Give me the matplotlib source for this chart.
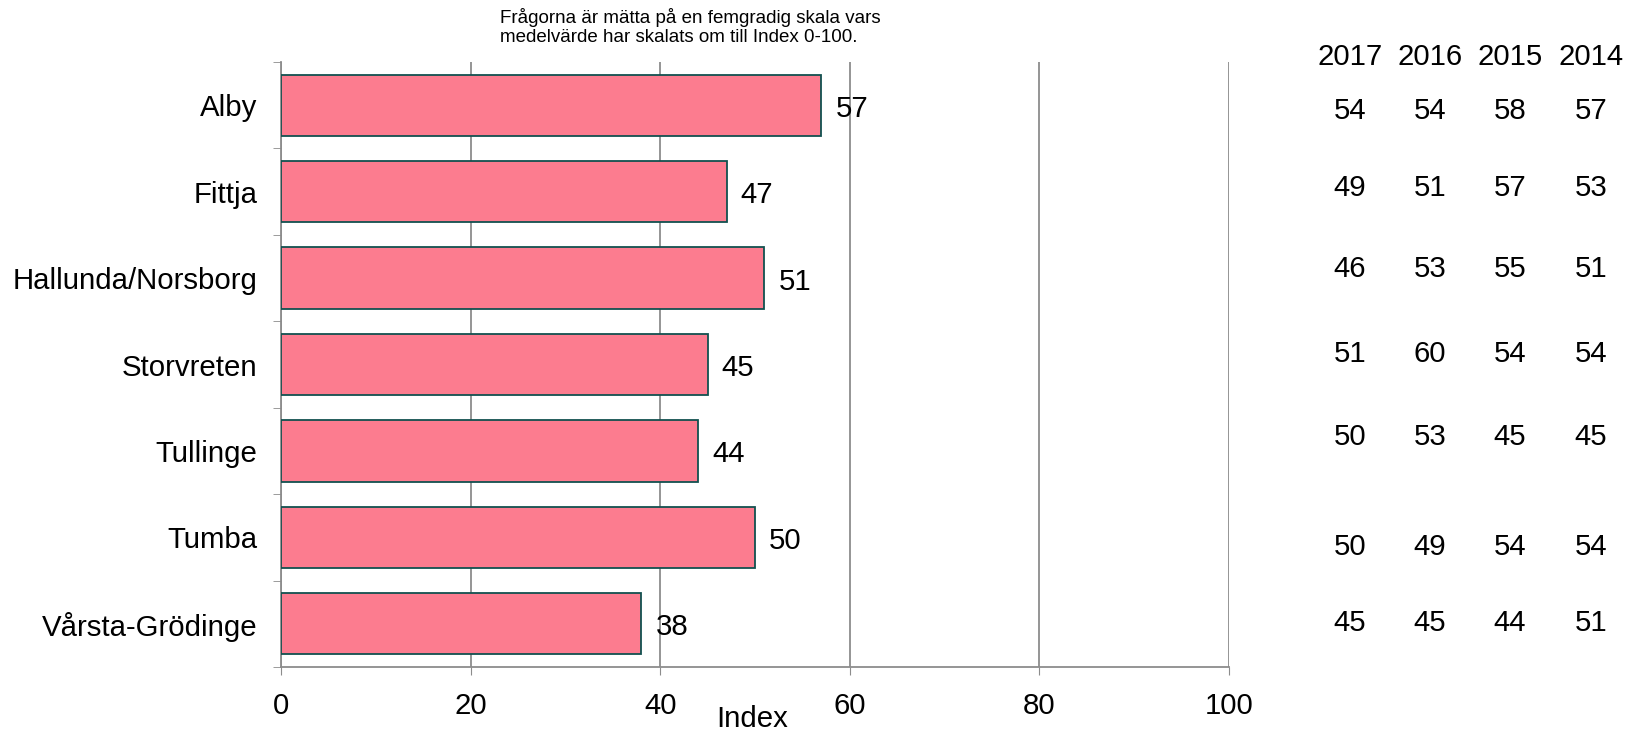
## bar chart of index per area with a small table of earlier years on the right
import numpy as np
import matplotlib.pyplot as plt

plt.rcParams['font.family'] = ['Liberation Sans', 'DejaVu Sans']

## data
areas = ['Alby', 'Fittja', 'Hallunda/Norsborg', 'Storvreten', 'Tullinge', 'Tumba', 'Vårsta-Grödinge']
index_2018 = [57, 47, 51, 45, 44, 50, 38]
years = ['2017', '2016', '2015', '2014']
v2017 = [54, 49, 46, 51, 50, 50, 45]
v2016 = [54, 51, 53, 60, 53, 49, 45]
v2015 = [58, 57, 55, 54, 45, 54, 44]
v2014 = [57, 53, 51, 54, 45, 54, 51]
note = 'Frågorna är mätta på en femgradig skala vars\nmedelvärde har skalats om till Index 0-100.'

W, H = 1629, 730
fs = 21.2
fig = plt.figure(figsize=(W / 100, H / 100), dpi=100)
ax = fig.add_axes([281 / W, 1 - 667 / H, (1229 - 281) / W, (667 - 62) / H])

grey = '#8c8c8c'
y = np.arange(len(areas))
ax.barh(y, index_2018, height=0.71, color='#fc7c8f', edgecolor='#12504f', linewidth=1.3, zorder=3)
for yi, v in zip(y, index_2018):
    ax.text(v + 1.5, yi + 0.04, str(v), va='center', ha='left', fontsize=fs, zorder=4)

ax.set_xlim(0, 100)
ax.set_ylim(len(areas) - 0.5, -0.5)
ax.set_xticks([0, 20, 40, 60, 80, 100])
ax.tick_params(axis='x', labelsize=fs, color=grey, length=6, pad=12)
ax.set_yticks(y)
ax.set_yticklabels(areas, fontsize=fs)
ax.tick_params(axis='y', length=0, pad=17)
ax.set_yticks(np.arange(len(areas) + 1) - 0.5, minor=True)
ax.tick_params(axis='y', which='minor', length=6, color=grey)
ax.grid(axis='x', color=grey, linewidth=1.3, zorder=0)
for s in ['top', 'right']:
    ax.spines[s].set_visible(False)
for s in ['left', 'bottom']:
    ax.spines[s].set_color(grey)
    ax.spines[s].set_linewidth(1.3)

fig.text(752 / W, 1 - 719 / H, 'Index', ha='center', va='center', fontsize=fs)
fig.text(500 / W, 1 - 8 / H, note, ha='left', va='top', fontsize=13.5, linespacing=1.15)

## table of previous years (positions)
col_x = [1350, 1430, 1510, 1591]
row_y = [111, 188, 269, 354, 437, 547, 623]
for cx, yr in zip(col_x, years):
    fig.text(cx / W, 1 - 57 / H, yr, ha='center', va='center', fontsize=fs)
for cx, col in zip(col_x, [v2017, v2016, v2015, v2014]):
    for ry, v in zip(row_y, col):
        fig.text(cx / W, 1 - ry / H, str(v), ha='center', va='center', fontsize=fs)

fig.savefig('out.png', dpi=100)
